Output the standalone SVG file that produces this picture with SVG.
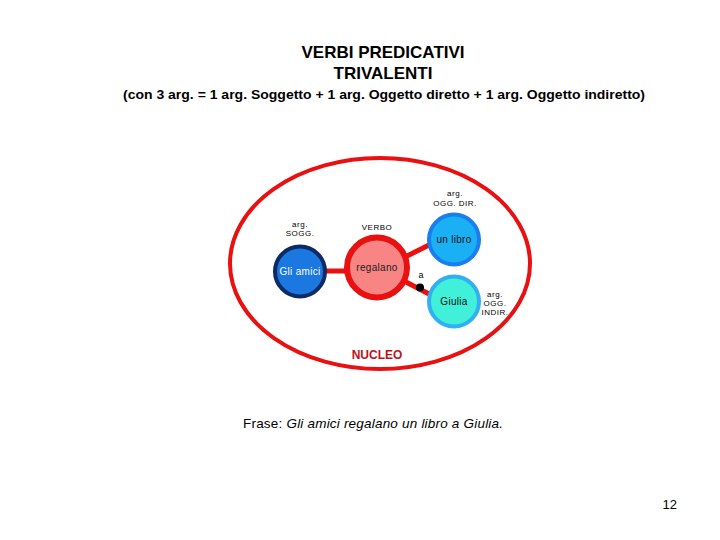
<svg xmlns="http://www.w3.org/2000/svg" width="720" height="540" viewBox="0 0 720 540">
<style>
text{font-family:"Liberation Sans",Arial,sans-serif}
.title{font-size:17px;font-weight:bold;fill:#000;text-anchor:middle}
.sub{font-size:13px;font-weight:bold;fill:#000;text-anchor:middle}
.small{font-size:8px;fill:#000;text-anchor:middle;letter-spacing:0.5px}
.lbl{font-size:10px;text-anchor:middle;letter-spacing:0.3px}
.conn{stroke:#e81010;stroke-width:5;fill:none}
</style>
<rect width="720" height="540" fill="#fff"/>
<text class="title" x="383" y="58">VERBI PREDICATIVI</text>
<text class="title" x="383" y="79">TRIVALENTI</text>
<text class="sub" x="384" y="99" textLength="522" lengthAdjust="spacingAndGlyphs">(con 3 arg. = 1 arg. Soggetto + 1 arg. Oggetto diretto + 1 arg. Oggetto indiretto)</text>

<g id="nucleo">
<ellipse cx="380" cy="263.5" rx="150" ry="105.5" fill="none" stroke="#e81010" stroke-width="4"/>
<text x="377" y="359" style="font-size:12px;font-weight:bold;fill:#c01018;text-anchor:middle">NUCLEO</text>
</g>

<g id="connectors">
<line class="conn" x1="326" y1="271" x2="346" y2="271"/>
<line class="conn" x1="405" y1="257" x2="429" y2="245"/>
<line class="conn" x1="404" y1="281" x2="431" y2="295"/>
<circle cx="420" cy="287.5" r="4" fill="#000"/>
<text x="421" y="278" style="font-size:9px;fill:#000;text-anchor:middle">a</text>
</g>

<g id="gli-amici">
<circle cx="300" cy="271.5" r="25" fill="#1a78e0" stroke="#0b2a66" stroke-width="4"/>
<text class="lbl" x="300" y="275" fill="#fff">Gli amici</text>
<text class="small" x="300" y="227">arg.</text>
<text class="small" x="300" y="236">SOGG.</text>
</g>

<g id="regalano">
<circle cx="377" cy="267.5" r="30" fill="#f88484" stroke="#e81010" stroke-width="6"/>
<text class="lbl" x="377" y="271" fill="#222">regalano</text>
<text class="small" x="377" y="230">VERBO</text>
</g>

<g id="un-libro">
<circle cx="454" cy="239.5" r="25" fill="#1ab0f4" stroke="#1a7ef0" stroke-width="4"/>
<text class="lbl" x="454" y="243" fill="#111">un libro</text>
<text class="small" x="455" y="196">arg.</text>
<text class="small" x="455" y="206">OGG. DIR.</text>
</g>

<g id="giulia">
<circle cx="454" cy="301.5" r="25" fill="#40f0d8" stroke="#30b0f0" stroke-width="4"/>
<text class="lbl" x="454" y="305" fill="#111">Giulia</text>
<text class="small" x="495" y="297">arg.</text>
<text class="small" x="495" y="306">OGG.</text>
<text class="small" x="495" y="315">INDIR.</text>
</g>

<text x="243" y="428" textLength="260" style="font-size:13.5px;fill:#000">Frase: <tspan font-style="italic">Gli amici regalano un libro a Giulia.</tspan></text>
<text x="677" y="509" style="font-size:13px;fill:#000;text-anchor:end">12</text>
</svg>
